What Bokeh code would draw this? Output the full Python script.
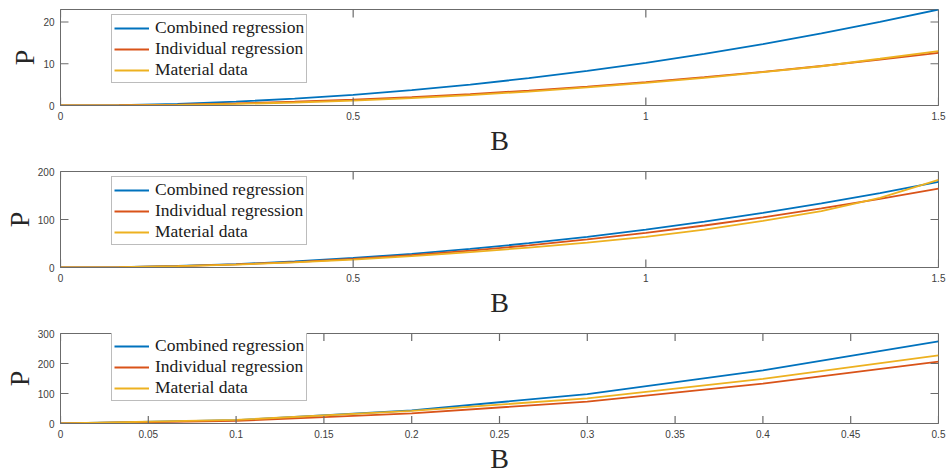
from bokeh.plotting import figure
from bokeh.models import Range1d, FixedTicker
from bokeh.layouts import column
from bokeh.embed import file_html
from bokeh.resources import INLINE

# ---------------- data ----------------
B_long = [0.0, 0.1, 0.2, 0.3, 0.4, 0.5, 0.6, 0.7, 0.8, 0.9, 1.0, 1.1, 1.2, 1.3, 1.4, 1.5]
B_short = [0.0, 0.1, 0.2, 0.3, 0.4, 0.5]

P1_combined = [0, 0.10, 0.41, 0.92, 1.64, 2.56, 3.68, 5.01, 6.54, 8.28, 10.22, 12.37, 14.72, 17.27, 20.03, 23.0]
P1_individual = [0, 0.06, 0.22, 0.50, 0.90, 1.40, 2.02, 2.74, 3.58, 4.54, 5.60, 6.78, 8.06, 9.46, 10.98, 12.6]
P1_material = [0, 0.03, 0.16, 0.38, 0.72, 1.18, 1.78, 2.49, 3.34, 4.33, 5.40, 6.62, 7.98, 9.40, 11.20, 13.05]

P2_combined = [0, 0.8, 3.2, 7.1, 12.6, 19.8, 28.4, 38.7, 50.6, 64.0, 79.0, 95.6, 113.8, 133.5, 154.8, 178.5]
P2_individual = [0, 0.7, 2.8, 6.4, 11.4, 17.8, 25.8, 35.2, 46.1, 58.5, 72.0, 87.5, 104.5, 123.0, 143.0, 164.5]
P2_material = [0, 0.6, 2.7, 6.0, 10.6, 16.5, 23.5, 32.0, 41.5, 52.0, 64.0, 79.0, 97.0, 117.5, 145.0, 182.5]

P3_combined = [0, 11, 44, 98, 177, 274]
P3_individual = [0, 8.5, 34, 73, 133, 206]
P3_material = [0, 12, 42, 84, 149, 227]

series_names = ["Combined regression", "Individual regression", "Material data"]
series_colors = ["#0072BD", "#D95319", "#EDB120"]

x_ticks_long = [0, 0.5, 1, 1.5]
x_tick_labels_long = ["0", "0.5", "1", "1.5"]
x_ticks_short = [0, 0.05, 0.1, 0.15, 0.2, 0.25, 0.3, 0.35, 0.4, 0.45, 0.5]
x_tick_labels_short = ["0", "0.05", "0.1", "0.15", "0.2", "0.25", "0.3", "0.35", "0.4", "0.45", "0.5"]

y_ticks_1 = [0, 10, 20]
y_ticks_2 = [0, 100, 200]
y_ticks_3 = [0, 100, 200, 300]

AX = "#6b6b6b"
TXT = "#404040"
FRAME_W = 946 - 59 - 8   # frame size in screen pixels
FRAME_H = 96
TICK_PX = 8


def style_axis(ax, ticks, labels=None):
    ax.ticker = FixedTicker(ticks=ticks)
    if labels is not None:
        ax.major_label_overrides = {t: l for t, l in zip(ticks, labels)}
    ax.axis_line_color = AX
    ax.axis_line_width = 1
    ax.major_tick_line_color = None
    ax.major_tick_in = 0
    ax.major_tick_out = 0
    ax.minor_tick_line_color = None
    ax.major_label_text_font = "Liberation Sans"
    ax.major_label_text_color = TXT
    ax.major_label_text_font_size = "10px"
    ax.major_label_standoff = 6


def make_panel(B, ys, x_end, y_end, xticks, xlabels, yticks, height, bottom):
    p = figure(width=946, height=height, output_backend="svg", toolbar_location=None,
               x_range=Range1d(0, x_end), y_range=Range1d(0, y_end),
               min_border_left=59, min_border_right=8, min_border_top=9,
               min_border_bottom=bottom)
    p.grid.visible = False
    p.outline_line_color = AX
    for name, color, y in zip(series_names, series_colors, ys):
        p.line(B, y, color=color, line_width=1.8, legend_label=name)

    # inward tick marks on all four sides of the box (MATLAB style)
    ty = TICK_PX * y_end / FRAME_H
    tx = TICK_PX * x_end / FRAME_W
    nx, ny = len(xticks), len(yticks)
    p.segment(xticks, [0] * nx, xticks, [ty] * nx, line_color=AX, line_width=1.2)
    p.segment(xticks, [y_end] * nx, xticks, [y_end - ty] * nx, line_color=AX, line_width=1.2)
    p.segment([0] * ny, yticks, [tx] * ny, yticks, line_color=AX, line_width=1.2)
    p.segment([x_end] * ny, yticks, [x_end - tx] * ny, yticks, line_color=AX, line_width=1.2)

    style_axis(p.xaxis[0], xticks, xlabels)
    style_axis(p.yaxis[0], yticks)
    p.xaxis[0].axis_label = "B"
    p.yaxis[0].axis_label = "P"
    for ax, st in ((p.xaxis[0], 2), (p.yaxis[0], 0)):
        ax.axis_label_text_font = "Liberation Serif"
        ax.axis_label_text_font_size = "28px"
        ax.axis_label_text_font_style = "normal"
        ax.axis_label_text_color = "#262626"
        ax.axis_label_standoff = st

    lg = p.legend[0]
    lg.location = (51, 22)
    lg.border_line_color = "#7a7a7a"
    lg.border_line_width = 1
    lg.background_fill_color = "white"
    lg.background_fill_alpha = 1
    lg.label_text_font = "Liberation Serif"
    lg.label_text_font_size = "17.5px"
    lg.label_text_color = "#1a1a1a"
    lg.glyph_width = 35
    lg.glyph_height = 18
    lg.label_height = 18
    lg.label_standoff = 6
    lg.padding = 2
    lg.spacing = 0
    lg.margin = 0
    return p


p1 = make_panel(B_long, [P1_combined, P1_individual, P1_material], 1.5, 23.0,
                x_ticks_long, x_tick_labels_long, y_ticks_1, 162, 57)
p2 = make_panel(B_long, [P2_combined, P2_individual, P2_material], 1.5, 200,
                x_ticks_long, x_tick_labels_long, y_ticks_2, 162, 57)
p3 = make_panel(B_short, [P3_combined, P3_individual, P3_material], 0.5, 300,
                x_ticks_short, x_tick_labels_short, y_ticks_3, 152, 47)

layout = column(p1, p2, p3, spacing=0)
open("out.html", "w").write(file_html(layout, INLINE))
